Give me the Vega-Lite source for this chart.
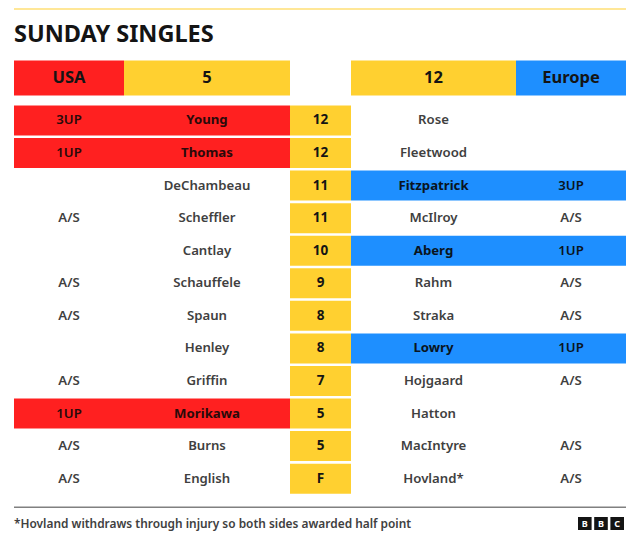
{
  "$schema": "https://vega.github.io/schema/vega-lite/v6.json",
  "description": "Sunday singles scoreboard: USA against Europe, match by match.",
  "padding": {"left": 14, "top": 8.5, "right": 14, "bottom": 0},
  "background": "white",
  "datasets": {
    "matches": [
      {"usaPlayer": "Young", "usaScore": "3UP", "hole": "12", "europePlayer": "Rose", "europeScore": "", "leader": "USA"},
      {"usaPlayer": "Thomas", "usaScore": "1UP", "hole": "12", "europePlayer": "Fleetwood", "europeScore": "", "leader": "USA"},
      {"usaPlayer": "DeChambeau", "usaScore": "", "hole": "11", "europePlayer": "Fitzpatrick", "europeScore": "3UP", "leader": "Europe"},
      {"usaPlayer": "Scheffler", "usaScore": "A/S", "hole": "11", "europePlayer": "McIlroy", "europeScore": "A/S", "leader": "none"},
      {"usaPlayer": "Cantlay", "usaScore": "", "hole": "10", "europePlayer": "Aberg", "europeScore": "1UP", "leader": "Europe"},
      {"usaPlayer": "Schauffele", "usaScore": "A/S", "hole": "9", "europePlayer": "Rahm", "europeScore": "A/S", "leader": "none"},
      {"usaPlayer": "Spaun", "usaScore": "A/S", "hole": "8", "europePlayer": "Straka", "europeScore": "A/S", "leader": "none"},
      {"usaPlayer": "Henley", "usaScore": "", "hole": "8", "europePlayer": "Lowry", "europeScore": "1UP", "leader": "Europe"},
      {"usaPlayer": "Griffin", "usaScore": "A/S", "hole": "7", "europePlayer": "Hojgaard", "europeScore": "A/S", "leader": "none"},
      {"usaPlayer": "Morikawa", "usaScore": "1UP", "hole": "5", "europePlayer": "Hatton", "europeScore": "", "leader": "USA"},
      {"usaPlayer": "Burns", "usaScore": "A/S", "hole": "5", "europePlayer": "MacIntyre", "europeScore": "A/S", "leader": "none"},
      {"usaPlayer": "English", "usaScore": "A/S", "hole": "F", "europePlayer": "Hovland*", "europeScore": "A/S", "leader": "none"}
    ]
  },
  "vconcat": [
    {
      "width": 612, "height": 1,
      "data": {"values": [{"part": "top rule"}]},
      "mark": {"type": "rect", "color": "#ffd030"}
    },
    {
      "width": 612, "height": 30.5,
      "data": {"values": [{"heading": "SUNDAY SINGLES"}]},
      "mark": {"type": "text", "align": "left", "font": "Noto Sans", "fontSize": 23.5, "fontWeight": "bold", "color": "#141414"},
      "encoding": {
        "x": {"datum": 0, "type": "quantitative", "scale": {"domain": [0, 1]}, "axis": null},
        "text": {"field": "heading"}
      }
    },
    {
      "spacing": 0,
      "hconcat": [
        {
          "width": 110, "height": 35,
          "data": {"values": [{"label": "USA"}]},
          "layer": [
            {"mark": {"type": "rect", "color": "#ff2020"}},
            {"mark": {"type": "text", "font": "Noto Sans", "fontSize": 16.5, "fontWeight": 700, "color": "#141414"}, "encoding": {"text": {"field": "label"}}}
          ]
        },
        {
          "width": 166, "height": 35,
          "data": {"values": [{"label": "5"}]},
          "layer": [
            {"mark": {"type": "rect", "color": "#ffd030"}},
            {"mark": {"type": "text", "font": "Noto Sans", "fontSize": 16.5, "fontWeight": 700, "color": "#141414"}, "encoding": {"text": {"field": "label"}}}
          ]
        },
        {
          "width": 61, "height": 35,
          "data": {"values": [{"label": ""}]},
          "mark": {"type": "text"},
          "encoding": {"text": {"field": "label"}}
        },
        {
          "width": 165, "height": 35,
          "data": {"values": [{"label": "12"}]},
          "layer": [
            {"mark": {"type": "rect", "color": "#ffd030"}},
            {"mark": {"type": "text", "font": "Noto Sans", "fontSize": 16.5, "fontWeight": 700, "color": "#141414"}, "encoding": {"text": {"field": "label"}}}
          ]
        },
        {
          "width": 110, "height": 35,
          "data": {"values": [{"label": "Europe"}]},
          "layer": [
            {"mark": {"type": "rect", "color": "#1e8fff"}},
            {"mark": {"type": "text", "font": "Noto Sans", "fontSize": 16.5, "fontWeight": 700, "color": "#141414"}, "encoding": {"text": {"field": "label"}}}
          ]
        }
      ]
    },
    {
      "spacing": 0,
      "data": {"name": "matches"},
      "hconcat": [
        {
          "width": 110, "height": 391,
          "encoding": {"y": {"field": "usaPlayer", "type": "nominal", "axis": null, "scale": {"domain": ["Young", "Thomas", "DeChambeau", "Scheffler", "Cantlay", "Schauffele", "Spaun", "Henley", "Griffin", "Morikawa", "Burns", "English"], "paddingInner": 0.08, "paddingOuter": 0.044, "align": 0}}},
          "layer": [
            {"transform": [{"filter": "datum.leader === 'USA'"}], "mark": {"type": "bar", "color": "#ff2020"}},
            {"mark": {"type": "text", "font": "Noto Sans", "fontSize": 13.2, "fontWeight": 600, "color": "#404040"}, "transform": [{"filter": "datum.leader !== 'USA'"}], "encoding": {"text": {"field": "usaScore"}}},
            {"mark": {"type": "text", "font": "Noto Sans", "fontSize": 13.2, "fontWeight": 600, "color": "#2a0a0a"}, "transform": [{"filter": "datum.leader === 'USA'"}], "encoding": {"text": {"field": "usaScore"}}}
          ]
        },
        {
          "width": 166, "height": 391,
          "encoding": {"y": {"field": "usaPlayer", "type": "nominal", "axis": null, "scale": {"domain": ["Young", "Thomas", "DeChambeau", "Scheffler", "Cantlay", "Schauffele", "Spaun", "Henley", "Griffin", "Morikawa", "Burns", "English"], "paddingInner": 0.08, "paddingOuter": 0.044, "align": 0}}},
          "layer": [
            {"transform": [{"filter": "datum.leader === 'USA'"}], "mark": {"type": "bar", "color": "#ff2020"}},
            {"mark": {"type": "text", "font": "Noto Sans", "fontSize": 13.2, "fontWeight": 600, "color": "#404040"}, "transform": [{"filter": "datum.leader !== 'USA'"}], "encoding": {"text": {"field": "usaPlayer"}}},
            {"mark": {"type": "text", "font": "Noto Sans", "fontSize": 13.2, "fontWeight": 700, "color": "#2a0a0a"}, "transform": [{"filter": "datum.leader === 'USA'"}], "encoding": {"text": {"field": "usaPlayer"}}}
          ]
        },
        {
          "width": 61, "height": 391,
          "encoding": {"y": {"field": "usaPlayer", "type": "nominal", "axis": null, "scale": {"domain": ["Young", "Thomas", "DeChambeau", "Scheffler", "Cantlay", "Schauffele", "Spaun", "Henley", "Griffin", "Morikawa", "Burns", "English"], "paddingInner": 0.08, "paddingOuter": 0.044, "align": 0}}},
          "layer": [
            {"mark": {"type": "bar", "color": "#ffd030"}},
            {"mark": {"type": "text", "font": "Noto Sans", "fontSize": 13.5, "fontWeight": 700, "color": "#141414"}, "encoding": {"text": {"field": "hole"}}}
          ]
        },
        {
          "width": 165, "height": 391,
          "encoding": {"y": {"field": "usaPlayer", "type": "nominal", "axis": null, "scale": {"domain": ["Young", "Thomas", "DeChambeau", "Scheffler", "Cantlay", "Schauffele", "Spaun", "Henley", "Griffin", "Morikawa", "Burns", "English"], "paddingInner": 0.08, "paddingOuter": 0.044, "align": 0}}},
          "layer": [
            {"transform": [{"filter": "datum.leader === 'Europe'"}], "mark": {"type": "bar", "color": "#1e8fff"}},
            {"mark": {"type": "text", "font": "Noto Sans", "fontSize": 13.2, "fontWeight": 600, "color": "#404040"}, "transform": [{"filter": "datum.leader !== 'Europe'"}], "encoding": {"text": {"field": "europePlayer"}}},
            {"mark": {"type": "text", "font": "Noto Sans", "fontSize": 13.2, "fontWeight": 700, "color": "#0a1420"}, "transform": [{"filter": "datum.leader === 'Europe'"}], "encoding": {"text": {"field": "europePlayer"}}}
          ]
        },
        {
          "width": 110, "height": 391,
          "encoding": {"y": {"field": "usaPlayer", "type": "nominal", "axis": null, "scale": {"domain": ["Young", "Thomas", "DeChambeau", "Scheffler", "Cantlay", "Schauffele", "Spaun", "Henley", "Griffin", "Morikawa", "Burns", "English"], "paddingInner": 0.08, "paddingOuter": 0.044, "align": 0}}},
          "layer": [
            {"transform": [{"filter": "datum.leader === 'Europe'"}], "mark": {"type": "bar", "color": "#1e8fff"}},
            {"mark": {"type": "text", "font": "Noto Sans", "fontSize": 13.2, "fontWeight": 600, "color": "#404040"}, "transform": [{"filter": "datum.leader !== 'Europe'"}], "encoding": {"text": {"field": "europeScore"}}},
            {"mark": {"type": "text", "font": "Noto Sans", "fontSize": 13.2, "fontWeight": 600, "color": "#0a1420"}, "transform": [{"filter": "datum.leader === 'Europe'"}], "encoding": {"text": {"field": "europeScore"}}}
          ]
        }
      ]
    },
    {
      "spacing": 8.5,
      "vconcat": [
        {
          "width": 612, "height": 1.5,
          "data": {"values": [{"part": "bottom rule"}]},
          "mark": {"type": "rect", "color": "#808080"}
        },
        {
          "spacing": 0,
          "hconcat": [
            {
              "width": 563, "height": 13,
              "data": {"values": [{"note": "*Hovland withdraws through injury so both sides awarded half point"}]},
              "mark": {"type": "text", "align": "left", "font": "Noto Sans", "fontSize": 11.9, "fontWeight": 600, "color": "#404040"},
              "encoding": {
                "x": {"datum": 0, "type": "quantitative", "scale": {"domain": [0, 1]}, "axis": null},
                "text": {"field": "note"}
              }
            },
            {
              "width": 46, "height": 13,
              "data": {"values": [{"slot": "first", "letter": "B"}, {"slot": "second", "letter": "B"}, {"slot": "third", "letter": "C"}]},
              "encoding": {"x": {"field": "slot", "type": "nominal", "sort": null, "axis": null, "scale": {"paddingInner": 0.16, "paddingOuter": 0}}},
              "layer": [
                {"mark": {"type": "bar", "color": "#141414"}},
                {"mark": {"type": "text", "font": "Noto Sans", "fontSize": 9, "fontWeight": 700, "color": "white"}, "encoding": {"text": {"field": "letter"}}}
              ]
            }
          ]
        }
      ]
    }
  ],
  "spacing": 10,
  "config": {"view": {"stroke": null}}
}
